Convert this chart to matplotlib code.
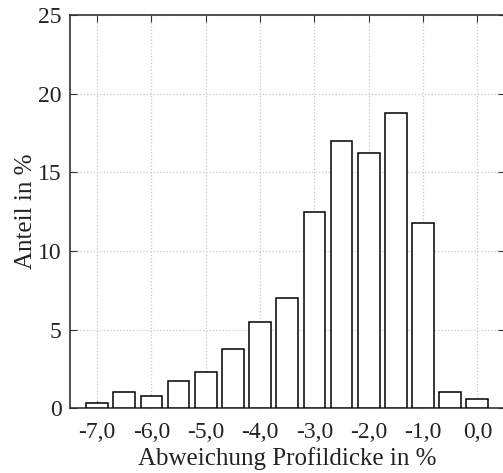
import matplotlib
matplotlib.use('Agg')
import matplotlib.pyplot as plt
import numpy as np

plt.rcParams['font.family'] = ['Liberation Serif', 'DejaVu Serif']

# Klassenmitten und Anteile
abweichung = [-7.0, -6.5, -6.0, -5.5, -5.0, -4.5, -4.0, -3.5,
              -3.0, -2.5, -2.0, -1.5, -1.0, -0.5, 0.0]
anteil = [0.3, 1.05, 0.8, 1.73, 2.3, 3.78, 5.5, 7.0,
          12.5, 17.0, 16.25, 18.8, 11.8, 1.03, 0.57]

xticks = [-7.0, -6.0, -5.0, -4.0, -3.0, -2.0, -1.0, 0.0]
xtick_labels = ['-7,0', '-6,0', '-5,0', '-4,0', '-3,0', '-2,0', '-1,0', '0,0']
yticks = [0, 5, 10, 15, 20, 25]

fig = plt.figure(figsize=(5.03, 4.73), dpi=100)
ax = fig.add_axes([0.139, 0.137, 0.864, 0.831])

ax.bar(abweichung, anteil, width=0.4, color='white', edgecolor='black',
       linewidth=1.1, zorder=3)

ax.set_xlim(-7.5, 0.5)
ax.set_ylim(0, 25)
ax.set_xticks(xticks)
ax.set_xticklabels(xtick_labels)
ax.set_yticks(yticks)

ax.grid(True, linestyle=':', color='#c8c8c8', linewidth=0.9, zorder=0)
ax.tick_params(direction='in', top=True, right=True, length=5,
               labelsize=17, color='#333333', labelcolor='#222222')
ax.tick_params(axis='x', pad=10)
ax.tick_params(axis='y', pad=6)
for s in ax.spines.values():
    s.set_color('#333333')
    s.set_linewidth(1.2)

ax.set_xlabel('Abweichung Profildicke in %', fontsize=18, color='#222222', labelpad=3)
ax.set_ylabel('Anteil in %', fontsize=18, color='#222222', labelpad=1)

fig.savefig('out.png', dpi=100)
